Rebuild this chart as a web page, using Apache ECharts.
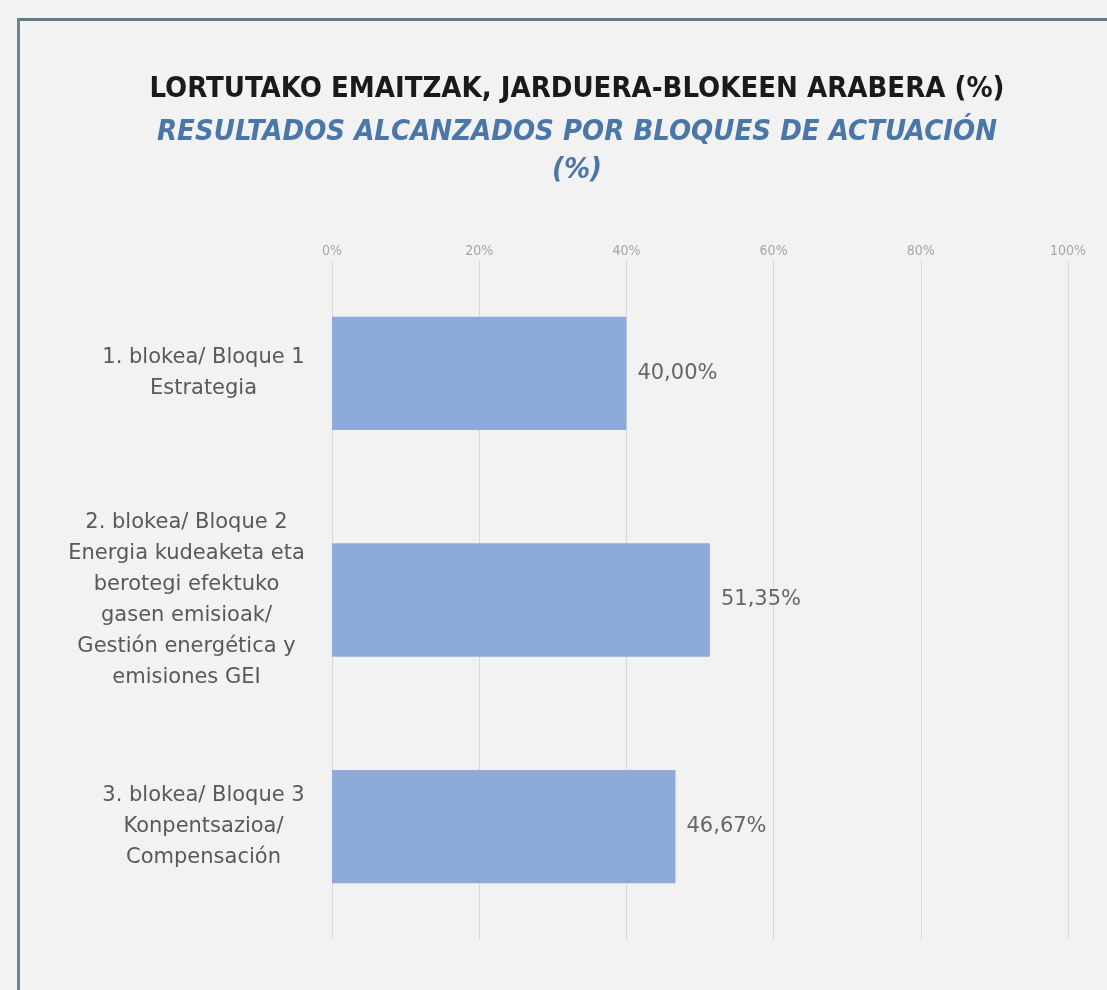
<!DOCTYPE html>
<html>
<head>
<meta charset="utf-8">
<script src="https://cdn.jsdelivr.net/npm/echarts@6/dist/echarts.min.js"></script>
<style>
  html, body { margin: 0; padding: 0; background: #f2f2f2; }
  #chart { width: 1107px; height: 990px; }
</style>
</head>
<body>
<div id="chart"></div>
<script>
// datuak / datos
const categories = [
  "1. blokea/ Bloque 1\nEstrategia",
  "2. blokea/ Bloque 2\nEnergia kudeaketa eta\nberotegi efektuko\ngasen emisioak/\nGestión energética y\nemisiones GEI",
  "3. blokea/ Bloque 3\nKonpentsazioa/\nCompensación"
];
const values = [40.00, 51.35, 46.67];
const tickValues = [0, 20, 40, 60, 80, 100];

const titleMain = "LORTUTAKO EMAITZAK, JARDUERA-BLOKEEN ARABERA (%)";
const titleSub = "RESULTADOS ALCANZADOS POR BLOQUES DE ACTUACIÓN\n(%)";

const FONT_NARROW = "'Liberation Sans Narrow', 'DejaVu Sans Condensed', sans-serif";
const FONT = "'DejaVu Sans', sans-serif";
const CAT_SIZE = 21;

// etiketa bakoitzaren zabalera (lerro luzeena) / ancho de cada bloque de texto
const ctx = document.createElement("canvas").getContext("2d");
ctx.font = CAT_SIZE + "px " + FONT;
const catRich = {};
categories.forEach((c, i) => {
  const w = Math.max(...c.split("\n").map((l) => ctx.measureText(l).width));
  catRich["c" + i] = {
    width: Math.ceil(w),
    align: "center",
    color: "#595959",
    fontFamily: FONT,
    fontSize: CAT_SIZE,
    lineHeight: 31
  };
});

const chart = echarts.init(document.getElementById("chart"));

chart.setOption({
  backgroundColor: "#f2f2f2",
  animation: false,
  title: [
    {
      text: titleMain,
      left: 572,
      top: 70,
      textAlign: "center",
      textStyle: { fontFamily: FONT_NARROW, fontSize: 29, fontWeight: "bold", color: "#1a1a1a" }
    },
    {
      text: titleSub,
      left: 572,
      top: 108,
      textAlign: "center",
      textStyle: {
        fontFamily: FONT_NARROW, fontSize: 29, fontWeight: "bold", fontStyle: "italic",
        color: "#4a76a8", lineHeight: 38
      }
    }
  ],
  graphic: [
    // marko / marco
    { type: "rect", shape: { x: 17, y: 18, width: 1090, height: 3 }, style: { fill: "#5d7d80" } },
    { type: "rect", shape: { x: 17, y: 18, width: 3, height: 972 }, style: { fill: "#6a8494" } }
  ],
  grid: { left: 332, right: 39, top: 260, bottom: 50 },
  xAxis: {
    type: "value",
    position: "top",
    min: 0,
    max: 100,
    interval: 20,
    axisLine: { show: false },
    axisTick: { show: false },
    axisLabel: {
      formatter: (v) => (tickValues.includes(v) ? v + "%" : ""),
      color: "#a6a6a6",
      fontFamily: FONT_NARROW,
      fontSize: 14,
      margin: 2
    },
    splitLine: { lineStyle: { color: "#d9d9d9", width: 1 } }
  },
  yAxis: {
    type: "category",
    data: categories,
    inverse: true,
    axisLine: { show: false },
    axisTick: { show: false },
    axisLabel: {
      margin: 27,
      align: "right",
      formatter: (v, i) => v.split("\n").map((l) => "{c" + i + "|" + l + "}").join("\n"),
      rich: catRich
    }
  },
  series: [
    {
      type: "bar",
      data: values,
      barCategoryGap: "50%",
      itemStyle: { color: "#8eaadb" },
      label: {
        show: true,
        position: "right",
        distance: 11,
        formatter: (p) => p.value.toFixed(2).replace(".", ",") + "%",
        color: "#666666",
        fontFamily: FONT,
        fontSize: 21
      }
    }
  ]
});
</script>
</body>
</html>
